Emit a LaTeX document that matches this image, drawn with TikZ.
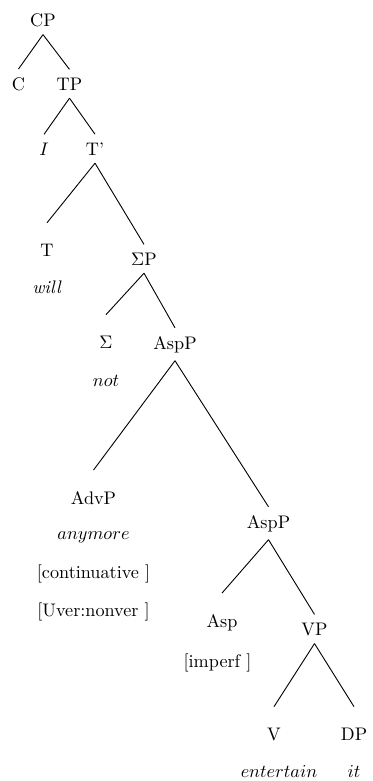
\documentclass[tikz,border=0pt]{standalone}

\begin{document}
\begin{tikzpicture}[x=0.55pt,y=-0.55pt,
  cat/.style={inner sep=0pt, outer xsep=0pt, outer ysep=4.5pt, anchor=base},
  head/.style={cat, outer ysep=11.5pt},
  word/.style={inner sep=0pt, anchor=base},
  branch/.style={line width=0.5pt}]
\useasboundingbox (0,0) rectangle (372,781);
\node[cat] (cp) at (43,26) {CP};
\node[cat] (c) at (18.5,90) {C};
\node[cat] (tp) at (69.5,90) {TP};
\node[cat] (i) at (44,155) {$I$};
\node[cat] (tbar) at (95,155) {T'};
\node[head] (t) at (47,256) {T};
\node[word] (will) at (47,293) {\textit{will}};
\node[cat] (sigmap) at (144,265) {$\Sigma$P};
\node[head] (sigma) at (106,348) {$\Sigma$};
\node[word] (not) at (106,386) {$not$};
\node[cat] (aspp) at (175,349) {AspP};
\node[head] (advp) at (93.5,504) {AdvP};
\node[word] (anymore) at (93.5,539) {$anymore$};
\node[word] (cont) at (93.5,578) {[continuative ]};
\node[word] (uver) at (93.5,616) {[Uver:nonver ]};
\node[cat] (asppb) at (268.5,528) {AspP};
\node[head] (asp) at (222,627) {Asp};
\node[word] (imperf) at (217.5,667) {[imperf ]};
\node[cat] (vp) at (314.5,635) {VP};
\node[head] (v) at (274,740) {V};
\node[word] (entertain) at (279,777) {$entertain$};
\node[head] (dp) at (354,740) {DP};
\node[word] (it) at (354,777) {$it$};
% branches
\foreach \p/\d in {cp/c, cp/tp, tp/i, tp/tbar, tbar/t, tbar/sigmap,
  sigmap/sigma, sigmap/aspp, aspp/advp, aspp/asppb, asppb/asp, asppb/vp,
  vp/v, vp/dp}
  \draw[branch] (\p.south) -- (\d.north);
\end{tikzpicture}
\end{document}
